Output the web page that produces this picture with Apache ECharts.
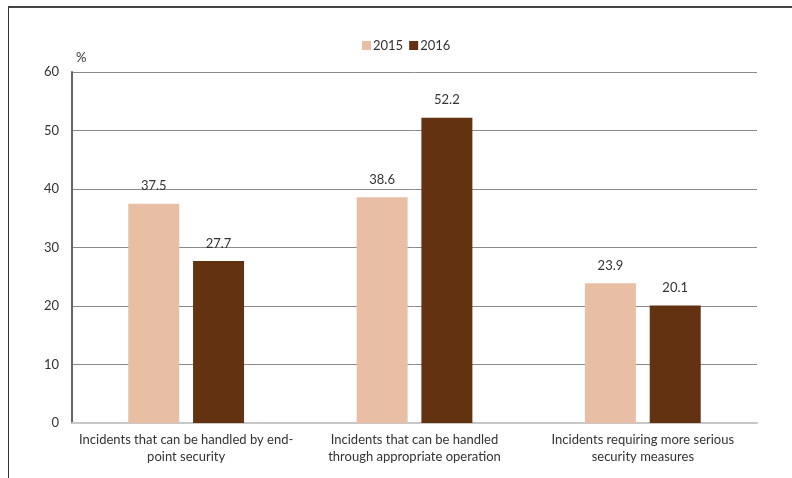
<!DOCTYPE html>
<html><head><meta charset="utf-8">
<script src="https://cdn.jsdelivr.net/npm/echarts@6/dist/echarts.min.js"></script>
<style>html,body{margin:0;padding:0;background:#fff}#c{width:792px;height:478px;position:relative}
#frame{position:absolute;left:8px;top:6px;width:800px;height:480px;border-left:1.5px solid #333;border-top:2px solid #444;pointer-events:none}</style>
</head><body>
<div id="c"></div>
<div id="frame"></div>
<script>
const categories = ["Incidents that can be handled by end-\npoint security", "Incidents that can be handled\nthrough appropriate operation", "Incidents requiring more serious\nsecurity measures"];
const seriesNames = ["2015", "2016"];
const values2015 = [37.5, 38.6, 23.9];
const values2016 = [27.7, 52.2, 20.1];
const colors = ["#E8BFA4", "#633211"];
const FONT = "Lato";
const chart = echarts.init(document.getElementById('c'), null, {renderer: 'canvas'});
chart.setOption({
  animation: false,
  textStyle: {fontFamily: FONT},
  legend: {
    top: 34, left: 357, itemWidth: 9, itemHeight: 9, itemGap: 6, icon: 'rect',
    textStyle: {fontFamily: FONT, fontSize: 13, color: '#333', padding: [0,0,0,-3]},
    data: seriesNames
  },
  grid: {left: 72, right: 35, top: 72, bottom: 55, containLabel: false},
  xAxis: {
    type: 'category', data: categories,
    axisLine: {lineStyle: {color: '#c8c8c8', width: 2}},
    axisTick: {show: false},
    axisLabel: {fontFamily: FONT, fontSize: 13, color: '#333', lineHeight: 17, margin: 8, interval: 0}
  },
  yAxis: {
    type: 'value', min: 0, max: 60, interval: 10,
    name: '%', nameLocation: 'end', nameGap: 8,
    nameTextStyle: {fontFamily: FONT, fontSize: 13, color: '#333', align: 'left', padding: [0,0,0,4]},
    axisLine: {show: true, lineStyle: {color: '#666', width: 2}},
    axisTick: {show: false},
    axisLabel: {fontFamily: FONT, fontSize: 13, color: '#333', margin: 13},
    splitLine: {lineStyle: {color: '#8a8a8a', width: 1}}
  },
  series: [
    {name: seriesNames[0], type: 'bar', data: values2015, barWidth: 51, barGap: '27%',
     itemStyle: {color: colors[0]},
     label: {show: true, position: 'top', distance: 11, fontFamily: FONT, fontSize: 13, color: '#333'}},
    {name: seriesNames[1], type: 'bar', data: values2016, barWidth: 51,
     itemStyle: {color: colors[1]},
     label: {show: true, position: 'top', distance: 11, fontFamily: FONT, fontSize: 13, color: '#333'}}
  ]
});
</script>
</body></html>
